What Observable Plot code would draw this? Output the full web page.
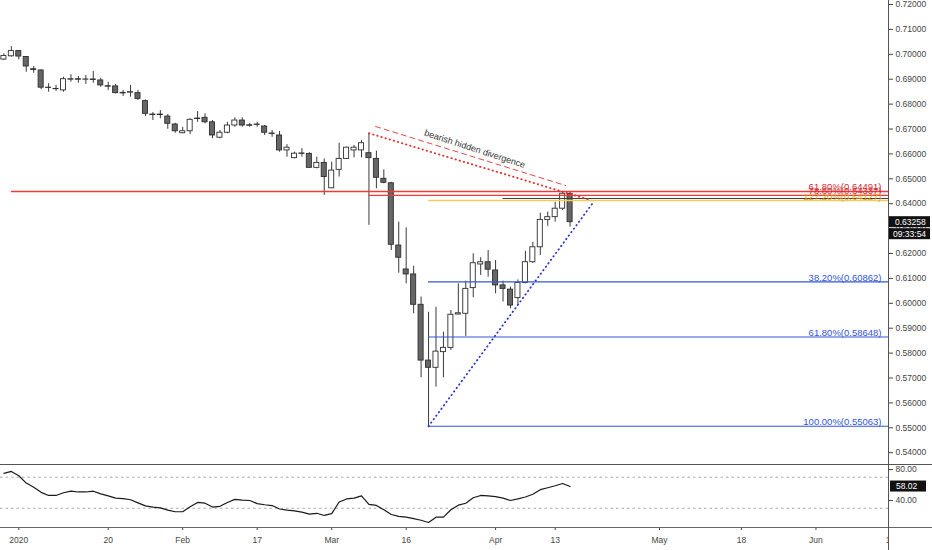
<!DOCTYPE html>
<html><head><meta charset="utf-8">
<script src="https://cdn.jsdelivr.net/npm/d3@7"></script>
<script src="https://cdn.jsdelivr.net/npm/@observablehq/plot@0.6"></script>
<style>
html,body{margin:0;padding:0;background:#fff;}
#wrap{width:932px;height:550px;position:relative;overflow:hidden;background:#fff;}
#wrap svg{display:block;}
</style></head><body><div id="wrap"></div>
<script>
// ---- data (daily candles, index 0 = 30 Dec 2019, trading days only) ----
const opens  = [0.6979,0.6992,0.7013,0.6989,0.6940,0.6935,0.6866,0.6861,0.6855,0.6898,
                0.6900,0.6898,0.6899,0.6895,0.6872,0.6871,0.6845,0.6846,0.6844,0.6812,
                0.6758,0.6756,0.6750,0.6718,0.6683,0.6691,0.6740,0.6745,0.6727,0.6665,
                0.6685,0.6714,0.6734,0.6715,0.6716,0.6710,0.6682,0.6674,0.6614,0.6583,
                0.6600,0.6600,0.6544,0.6564,0.6462,0.6536,0.6580,0.6614,0.6614,0.6603,
                0.6580,0.6500,0.6482,0.6232,0.6136,0.6116,0.5994,0.5770,0.5741,0.5804,
                0.5821,0.5955,0.5958,0.6061,0.6156,0.6165,0.6132,0.6072,0.6055,0.6021,
                0.6082,0.6165,0.6225,0.6335,0.6346,0.6380,0.6440];
const highs  = [0.7002,0.7031,0.7015,0.6991,0.6951,0.6938,0.6882,0.6875,0.6908,0.6918,
                0.6911,0.6915,0.6931,0.6904,0.6888,0.6879,0.6855,0.6875,0.6855,0.6817,
                0.6766,0.6774,0.6758,0.6723,0.6707,0.6741,0.6770,0.6761,0.6734,0.6694,
                0.6727,0.6745,0.6745,0.6723,0.6727,0.6714,0.6694,0.6690,0.6637,0.6607,
                0.6621,0.6605,0.6587,0.6580,0.6567,0.6643,0.6627,0.6634,0.6654,0.6683,
                0.6611,0.6536,0.6486,0.6326,0.6303,0.6149,0.6025,0.5964,0.5984,0.5884,
                0.5971,0.6078,0.6089,0.6199,0.6183,0.6212,0.6172,0.6089,0.6065,0.6094,
                0.6209,0.6245,0.6362,0.6366,0.6406,0.6446,0.6446];
const lows   = [0.6975,0.6989,0.6978,0.6928,0.6924,0.6858,0.6848,0.6851,0.6848,0.6888,
                0.6884,0.6879,0.6884,0.6868,0.6855,0.6841,0.6831,0.6828,0.6815,0.6750,
                0.6734,0.6741,0.6699,0.6683,0.6681,0.6678,0.6727,0.6721,0.6661,0.6661,
                0.6681,0.6707,0.6707,0.6707,0.6707,0.6674,0.6667,0.6607,0.6587,0.6580,
                0.6587,0.6543,0.6540,0.6433,0.6460,0.6507,0.6578,0.6584,0.6584,0.6313,
                0.6460,0.6480,0.6212,0.6121,0.6078,0.5958,0.5701,0.55063,0.5663,0.5701,
                0.5811,0.5954,0.5867,0.6022,0.6112,0.6105,0.6038,0.6005,0.5978,0.5991,
                0.6078,0.6160,0.6192,0.6309,0.6326,0.6373,0.6306];
const closes = [0.6993,0.7013,0.6991,0.6951,0.6937,0.6866,0.6865,0.6860,0.6900,0.6900,
                0.6898,0.6899,0.6897,0.6875,0.6870,0.6844,0.6843,0.6848,0.6821,0.6761,
                0.6756,0.6758,0.6721,0.6691,0.6691,0.6737,0.6742,0.6727,0.6674,0.6685,
                0.6714,0.6734,0.6714,0.6713,0.6718,0.6685,0.6680,0.6614,0.6625,0.6601,
                0.6602,0.6544,0.6564,0.6507,0.6533,0.6580,0.6625,0.6625,0.6643,0.6583,
                0.6504,0.6484,0.6235,0.6183,0.6116,0.5994,0.5770,0.5741,0.5806,0.5821,
                0.5954,0.5960,0.6058,0.6161,0.6165,0.6135,0.6072,0.6058,0.5991,0.6082,
                0.6165,0.6225,0.6335,0.6346,0.6380,0.6440,0.63258];
const rsiValues = [75,77.5,72,62.5,57,50.5,46.5,46.5,50,52,
                   51,51,52,48.5,46,43,42.5,41,37,33,
                   31.5,30.5,27.5,25.5,25.5,32,37.5,36.5,31.5,32.5,
                   37.5,41.5,40.5,40,36,34.5,33.5,29,27.5,26.5,
                   25,22.5,23.5,20.7,23,38,42,43,46,35,
                   33.6,28,21.9,19.5,18.5,16.5,14.5,11.6,18.5,18.5,
                   28,34,36.5,43.5,46.5,46,45,43,40,42,
                   44.5,48,54,56.5,59,62,58.02];
const rsiBands = [70, 30];
const rsiTicks = [80, 40];
const priceTicks = [0.54,0.55,0.56,0.57,0.58,0.59,0.60,0.61,0.62,0.63,0.64,0.65,0.66,0.67,0.68,0.69,0.70,0.71,0.72];
const dateTickIndex  = [2,14,24,34,44,54,66,74,88,99,109,119];
const dateTickLabels = ["2020","20","Feb","17","Mar","16","Apr","13","May","18","Jun","15"];
const countdownText = "09:33:54";

// horizontal levels (value, label, start candle index)
const levelValues = [0.64491,0.64337,0.6421,0.64127,0.60862,0.58648,0.55063];
const levelLabels = ["61.80%(0.64491)","78.60%(0.64337)","","127.20%(0.64127)","38.20%(0.60862)","61.80%(0.58648)","100.00%(0.55063)"];
const levelStart  = [1,49,67,57,57,57,57];
// trend lines: [candle index, price]
const blueTrend   = [[57,0.55063],[79.2,0.6409]];
const redDotted   = [[49,0.6683],[78.7,0.6415]];
const redDashed   = [[49.9,0.6710],[75.4,0.6473]];
const noteText = "bearish hidden divergence";
const notePos = [63.2,0.6620];

// ---- styles ----
const RED="#f03a3a", REDTXT="#d42a32", YEL="#f2cc5a", YELTXT="#e6a41c", BLUE="#3456d4", DARK="#3c3c3c";
const levelColors = [RED,RED,DARK,YEL,BLUE,BLUE,BLUE];
const levelTextColors = [REDTXT,REDTXT,DARK,YELTXT,BLUE,BLUE,BLUE];
const levelWidths = [1.3,1.2,1,1.6,1.1,1.1,1.1];
const FONT = "'Liberation Sans', Arial, sans-serif";
const xDomain = [-0.456, 118.74];
const LABEL_X = 117.8;

const candles = opens.map((o,i)=>({i,o,h:highs[i],l:lows[i],c:closes[i]}));
const upCandles = candles.filter(d=>d.c>=d.o);
const downCandles = candles.filter(d=>d.c<d.o);
const rsiData = rsiValues.map((v,i)=>({i,v}));

const levelMarks = [];
levelValues.forEach((v,k)=>{
  const row = [{v, start:levelStart[k], label:levelLabels[k]}];
  levelMarks.push(Plot.ruleY(row,{y:"v", x1:"start", x2:()=>xDomain[1], stroke:levelColors[k], strokeWidth:levelWidths[k]}));
});
levelValues.forEach((v,k)=>{
  const row = [{v, label:levelLabels[k]}];
  if (levelLabels[k]) levelMarks.push(Plot.text(row,{x:()=>LABEL_X, y:"v", text:"label", fill:levelTextColors[k],
      textAnchor:"end", lineAnchor:"bottom", dy:-1, fontSize:9.5}));
});

const wrap = document.getElementById("wrap");

const main = Plot.plot({
  width:932, height:464,
  marginLeft:0, marginRight:44, marginTop:0, marginBottom:0,
  style:{fontFamily:FONT, fontSize:"8.5px", color:"#444", background:"#fff", overflow:"visible"},
  x:{domain:xDomain, axis:null},
  y:{domain:[0.53527,0.72161]},
  marks:[
    Plot.ruleX(candles,{x:"i", y1:"l", y2:"h", stroke:"#3a3a3a", strokeWidth:1}),
    Plot.rect(upCandles,{x1:d=>d.i-0.34, x2:d=>d.i+0.34, y1:"o", y2:"c", fill:"#ffffff", stroke:"#2e2e2e", strokeWidth:0.9}),
    Plot.rect(downCandles,{x1:d=>d.i-0.34, x2:d=>d.i+0.34, y1:"o", y2:"c", fill:"#666666", stroke:"#2e2e2e", strokeWidth:0.9}),
    ...levelMarks,
    Plot.line(blueTrend,{x:d=>d[0], y:d=>d[1], stroke:"#2a36cc", strokeWidth:1.8, strokeDasharray:"0.5,3.8", strokeLinecap:"round"}),
    Plot.line(redDotted,{x:d=>d[0], y:d=>d[1], stroke:"#e03030", strokeWidth:1.8, strokeDasharray:"0.5,3.8", strokeLinecap:"round"}),
    Plot.line(redDashed,{x:d=>d[0], y:d=>d[1], stroke:"#e04848", strokeWidth:1, strokeDasharray:"5,4"}),
    Plot.text([notePos],{x:d=>d[0], y:d=>d[1], text:()=>noteText, rotate:18, fontSize:9, fill:"#333"}),
    Plot.ruleX([xDomain[1]],{stroke:"#555"}),
    Plot.axisY({anchor:"right", ticks:priceTicks, tickFormat:d3.format(".5f"), tickSize:4, tickPadding:3, label:null, fontSize:8.5})
  ]
});
wrap.appendChild(main);

// last price + countdown boxes on the price axis
{
  const sy = main.scale("y");
  const sx = main.scale("x");
  const ax = sx.apply(xDomain[1]);
  const last = closes[closes.length-1];
  const yy = sy.apply(last);
  const s = d3.select(main);
  const g = s.append("g").attr("font-family",FONT).attr("font-size","8.5px").attr("text-anchor","start");
  g.append("rect").attr("x",ax+1).attr("y",yy-5.5).attr("width",41).attr("height",11).attr("fill","#111");
  g.append("text").attr("x",ax+7).attr("y",yy+3).attr("fill","#fff").text(d3.format(".5f")(last));
  g.append("rect").attr("x",ax+1).attr("y",yy+6.5).attr("width",41).attr("height",11).attr("fill","#111");
  g.append("text").attr("x",ax+5).attr("y",yy+15).attr("fill","#fff").text(countdownText);
}

const rsiPlot = Plot.plot({
  width:932, height:86,
  marginLeft:0, marginRight:44, marginTop:0, marginBottom:23,
  style:{fontFamily:FONT, fontSize:"8.5px", color:"#444", background:"#fff", overflow:"visible"},
  x:{domain:xDomain},
  y:{domain:[5.16,86.45]},
  marks:[
    Plot.ruleY(rsiBands,{stroke:"#aaaaaa", strokeDasharray:"2.5,3"}),
    Plot.line(rsiData,{x:"i", y:"v", stroke:"#1a1a1a", strokeWidth:1.2}),
    Plot.ruleX([xDomain[1]],{stroke:"#555"}),
    Plot.axisY({anchor:"right", ticks:rsiTicks, tickFormat:d3.format(".2f"), tickSize:4, tickPadding:3, label:null, fontSize:8.5}),
    Plot.axisX({anchor:"bottom", ticks:dateTickIndex, tickFormat:d=>dateTickLabels[dateTickIndex.indexOf(d)],
      tickSize:3, tickPadding:6, label:null, fontSize:8.5})
  ]
});
wrap.appendChild(rsiPlot);

{
  const sy = rsiPlot.scale("y");
  const sx = rsiPlot.scale("x");
  const ax = sx.apply(xDomain[1]);
  const s = d3.select(rsiPlot);
  const bottom = 86-23;
  s.append("rect").attr("x",ax+1).attr("y",bottom+1).attr("width",932-ax).attr("height",23).attr("fill","#fff");
  s.append("line").attr("x1",0).attr("x2",932).attr("y1",0.5).attr("y2",0.5).attr("stroke","#555");
  s.append("line").attr("x1",0).attr("x2",932).attr("y1",bottom+0.5).attr("y2",bottom+0.5).attr("stroke","#666");
  s.append("line").attr("x1",ax+0.5).attr("x2",ax+0.5).attr("y1",0).attr("y2",86).attr("stroke","#555");
  const lastR = rsiValues[rsiValues.length-1];
  const yy = sy.apply(lastR);
  const g = s.append("g").attr("font-family",FONT).attr("font-size","8.5px").attr("text-anchor","start");
  g.append("rect").attr("x",ax+2).attr("y",yy-5.5).attr("width",36).attr("height",11).attr("fill","#111");
  g.append("text").attr("x",ax+8).attr("y",yy+3).attr("fill","#fff").text(d3.format(".2f")(lastR));
}
</script></body></html>
